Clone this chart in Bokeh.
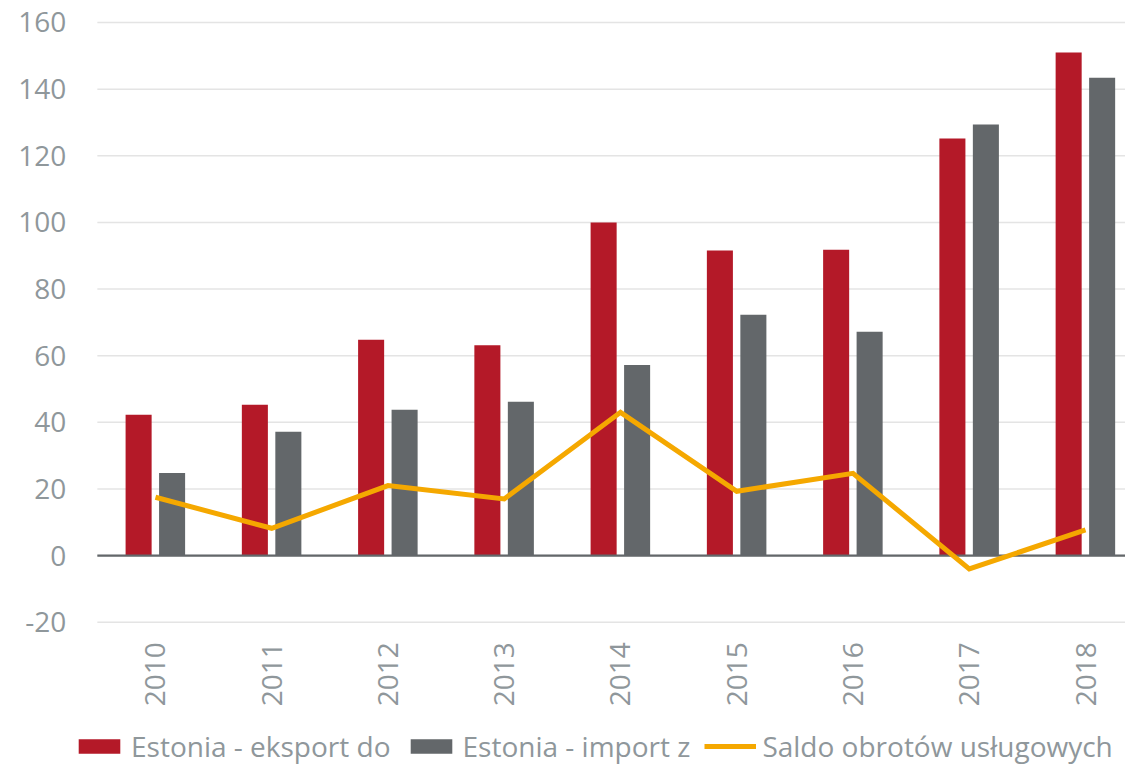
import math
from bokeh.plotting import figure
from bokeh.models import Range1d, Legend, LegendItem, ColumnDataSource
from bokeh.core.properties import value
from bokeh.transform import dodge
from bokeh.embed import file_html
from bokeh.resources import INLINE

years = ["2010", "2011", "2012", "2013", "2014", "2015", "2016", "2017", "2018"]
eksport = [42.3, 45.3, 64.8, 63.1, 100.0, 91.6, 91.8, 125.2, 151.0]
import_z = [24.8, 37.2, 43.8, 46.2, 57.2, 72.3, 67.2, 129.4, 143.4]
saldo = [17.5, 8.2, 21.0, 17.0, 43.0, 19.3, 24.7, -4.0, 7.7]
y_ticks = [-20, 0, 20, 40, 60, 80, 100, 120, 140, 160]

RED = "#B41928"
GRAY = "#63676A"
ORANGE = "#F5A800"
TXT = "#8F979B"
GRID = "#E4E4E4"
FONT = "Open Sans"
FS = "28px"

X_START, X_END = -1.333, 8.344
Y_START, Y_END = -63.0, 166.6

idx = list(range(len(years)))
src = ColumnDataSource(dict(x=idx, eksport=eksport, import_z=import_z,
                            saldo=saldo))

p = figure(width=1125, height=765, output_backend="svg", toolbar_location=None,
           x_range=Range1d(X_START, X_END), y_range=Range1d(Y_START, Y_END),
           x_axis_location=None, y_axis_location=None,
           min_border_left=0, min_border_right=0, min_border_top=0,
           min_border_bottom=0)
p.outline_line_color = None
p.background_fill_color = "white"
p.xgrid.visible = False
p.ygrid.visible = False

# horizontal grid lines at the y ticks, starting at the first category band edge
band_left = idx[0] - 0.5
p.segment(x0=[band_left] * len(y_ticks), x1=[X_END] * len(y_ticks),
          y0=y_ticks, y1=y_ticks, line_color=GRID, line_width=1.5)

r_exp = p.vbar(x=dodge("x", -0.145, range=p.x_range), top="eksport", width=0.224,
               source=src, fill_color=RED, line_color=None)
r_imp = p.vbar(x=dodge("x", 0.143, range=p.x_range), top="import_z", width=0.224,
               source=src, fill_color=GRAY, line_color=None)

# zero (category) axis line
p.segment(x0=[band_left], x1=[X_END], y0=[0], y1=[0], line_color=GRAY,
          line_width=2.2)

r_sal = p.line(x="x", y="saldo", source=src, line_color=ORANGE, line_width=5,
               line_join="miter")

# y tick labels
p.text(x=[band_left] * len(y_ticks), y=y_ticks, text=[str(t) for t in y_ticks],
       x_offset=-31, text_align="right", text_baseline="middle",
       text_font=value(FONT), text_font_size=value(FS), text_color=TXT)

# x category labels, rotated, hanging below the lowest grid line
p.text(x=idx, y=[y_ticks[0]] * len(years), text=years, angle=math.pi / 2,
       y_offset=20, text_align="right", text_baseline="middle",
       text_font=value(FONT), text_font_size=value(FS), text_color=TXT)

legend = Legend(items=[
    LegendItem(label="Estonia - eksport do", renderers=[r_exp]),
    LegendItem(label="Estonia - import z", renderers=[r_imp]),
    LegendItem(label="Saldo obrotów usługowych", renderers=[r_sal]),
], orientation="horizontal", location=(73, 0))
legend.label_text_font = FONT
legend.label_text_font_size = FS
legend.label_text_color = TXT
legend.glyph_width = 52
legend.glyph_height = 18
legend.label_standoff = 6
legend.spacing = 14
legend.padding = 0
legend.margin = 0
legend.border_line_color = None
legend.background_fill_alpha = 0
p.add_layout(legend, "center")

open("out.html", "w").write(file_html(p, INLINE))
